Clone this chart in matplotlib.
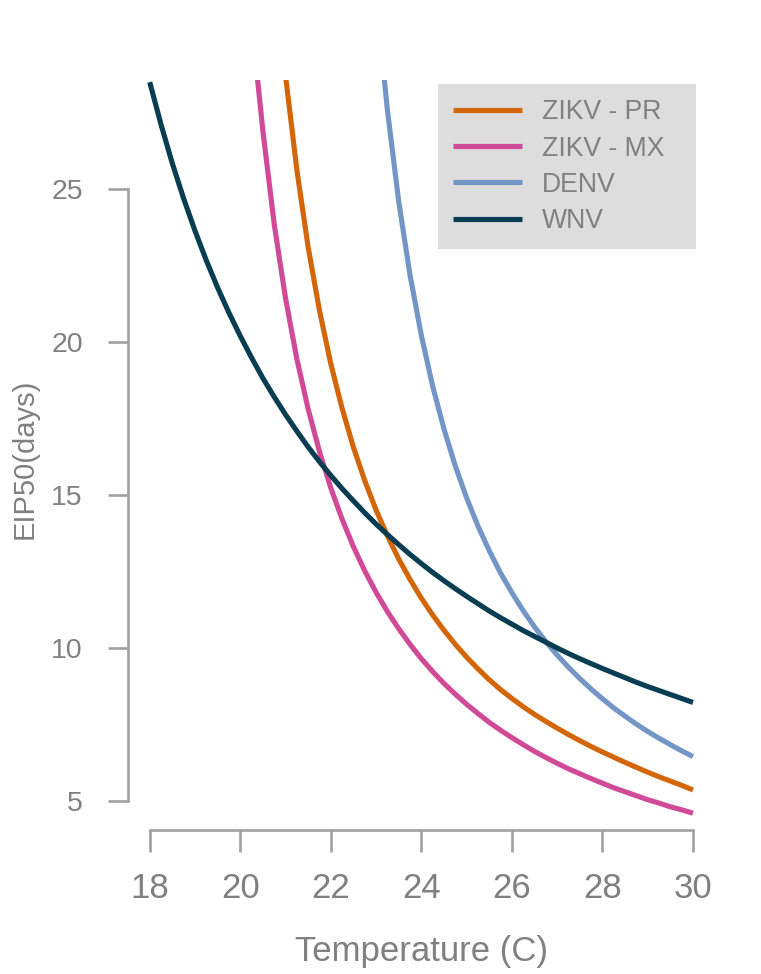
import matplotlib
matplotlib.use("Agg")
import matplotlib.pyplot as plt

# EIP50 (days), by temperature (C)
wnv_temp = [18.0, 18.25, 18.5, 18.75, 19.0, 19.25, 19.5, 19.75, 20.0, 20.25, 20.5, 20.75,
            21.0, 21.25, 21.5, 21.75, 22.0, 22.25, 22.5, 22.75, 23.0, 23.25, 23.5, 23.75,
            24.0, 24.25, 24.5, 24.75, 25.0, 25.25, 25.5, 25.75, 26.0, 26.25, 26.5, 26.75,
            27.0, 27.25, 27.5, 27.75, 28.0, 28.25, 28.5, 28.75, 29.0, 29.25, 29.5, 29.75, 30.0]
wnv_eip = [28.49, 27.10, 25.83, 24.68, 23.63, 22.66, 21.77, 20.95, 20.19, 19.48, 18.81, 18.20,
           17.62, 17.08, 16.56, 16.08, 15.63, 15.20, 14.80, 14.41, 14.04, 13.70, 13.37, 13.05,
           12.75, 12.46, 12.19, 11.93, 11.68, 11.44, 11.20, 10.98, 10.77, 10.56, 10.37, 10.18,
           9.99, 9.81, 9.64, 9.48, 9.32, 9.17, 9.02, 8.87, 8.73, 8.60, 8.47, 8.34, 8.21]

zmx_temp = [20.38, 20.5, 20.75, 21.0, 21.25, 21.5, 21.75, 22.0, 22.25, 22.5, 22.75, 23.0,
            23.25, 23.5, 23.75, 24.0, 24.25, 24.5, 24.75, 25.0, 25.25, 25.5, 25.75, 26.0,
            26.25, 26.5, 26.75, 27.0, 27.25, 27.5, 27.75, 28.0, 28.25, 28.5, 28.75, 29.0,
            29.25, 29.5, 29.75, 30.0]
zmx_eip = [28.6, 26.89, 23.84, 21.42, 19.44, 17.80, 16.41, 15.22, 14.20, 13.30, 12.51, 11.81,
           11.18, 10.62, 10.11, 9.64, 9.22, 8.83, 8.48, 8.15, 7.85, 7.56, 7.30, 7.06,
           6.83, 6.61, 6.41, 6.22, 6.04, 5.88, 5.72, 5.57, 5.42, 5.29, 5.16, 5.03,
           4.92, 4.80, 4.70, 4.59]

zpr_temp = [21.0, 21.25, 21.5, 21.75, 22.0, 22.25, 22.5, 22.75, 23.0, 23.25, 23.5, 23.75,
            24.0, 24.25, 24.5, 24.75, 25.0, 25.25, 25.5, 25.75, 26.0, 26.25, 26.5, 26.75,
            27.0, 27.25, 27.5, 27.75, 28.0, 28.25, 28.5, 28.75, 29.0, 29.25, 29.5, 29.75, 30.0]
zpr_eip = [28.7, 25.62, 23.09, 21.02, 19.28, 17.82, 16.55, 15.46, 14.50, 13.66, 12.90, 12.23,
           11.62, 11.07, 10.57, 10.11, 9.69, 9.31, 8.95, 8.63, 8.34, 8.07, 7.82, 7.59,
           7.37, 7.16, 6.96, 6.77, 6.59, 6.42, 6.25, 6.09, 5.93, 5.78, 5.64, 5.50, 5.35]

denv_temp = [23.18, 23.25, 23.5, 23.75, 24.0, 24.25, 24.5, 24.75, 25.0, 25.25, 25.5, 25.75,
             26.0, 26.25, 26.5, 26.75, 27.0, 27.25, 27.5, 27.75, 28.0, 28.25, 28.5, 28.75,
             29.0, 29.25, 29.5, 29.75, 30.0]
denv_eip = [28.6, 27.58, 24.59, 22.18, 20.21, 18.55, 17.15, 15.94, 14.90, 13.98, 13.17, 12.44,
            11.80, 11.21, 10.68, 10.20, 9.76, 9.36, 8.99, 8.65, 8.33, 8.03, 7.76, 7.50,
            7.26, 7.04, 6.83, 6.63, 6.44]

x_ticks = [18, 20, 22, 24, 26, 28, 30]
y_ticks = [5, 10, 15, 20, 25]

txt = "#808080"
axc = "#a0a0a0"

plt.rcParams["font.family"] = ["Liberation Sans", "DejaVu Sans"]

fig = plt.figure(figsize=(7.61, 9.74), dpi=100)
W, H = 761, 974
ax = fig.add_axes([128 / W, 1 - 830 / H, (714.7 - 128) / W, (830 - 80) / H])

lw = 3.7
ax.plot(zpr_temp, zpr_eip, color="#d4660a", lw=lw, label="ZIKV - PR", solid_capstyle="butt")
ax.plot(zmx_temp, zmx_eip, color="#d04a98", lw=lw, label="ZIKV - MX", solid_capstyle="butt")
ax.plot(denv_temp, denv_eip, color="#7396c6", lw=lw, label="DENV", solid_capstyle="butt")
ax.plot(wnv_temp, wnv_eip, color="#083d52", lw=lw, label="WNV", solid_capstyle="butt")

ax.set_xlim(17.52, 30.48)
ax.set_ylim(4.04, 28.56)

for s in ["top", "right"]:
    ax.spines[s].set_visible(False)
for s in ["left", "bottom"]:
    ax.spines[s].set_color(axc)
    ax.spines[s].set_linewidth(1.9)
ax.spines["left"].set_bounds(5, 25)
ax.spines["bottom"].set_bounds(18, 30)

ax.set_xticks(x_ticks)
ax.set_yticks(y_ticks)
ax.tick_params(axis="x", colors=axc, labelcolor=txt, labelsize=25, length=16, width=1.9, pad=14)
ax.tick_params(axis="y", colors=axc, labelcolor=txt, labelsize=20.5, length=14.5, width=1.9, pad=18)

ax.set_xlabel("Temperature (C)", color=txt, fontsize=25, labelpad=22)
ax.set_ylabel("EIP50(days)", color=txt, fontsize=21)
ax.yaxis.set_label_coords(-0.153, 0.495)

leg = ax.legend(loc="upper left", mode="expand",
                bbox_to_anchor=(438 / W, 1 - 249 / H, 258 / W, 165 / H),
                bbox_transform=fig.transFigure, borderaxespad=0,
                fontsize=19.2, frameon=True, fancybox=False, framealpha=1,
                facecolor="#dddddd", edgecolor="none", handlelength=2.58,
                handletextpad=0.75, labelspacing=0.38, borderpad=0.58)
for t in leg.get_texts():
    t.set_color(txt)

fig.savefig("out.png", dpi=100)
